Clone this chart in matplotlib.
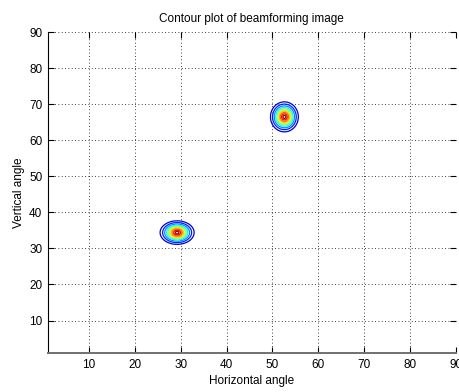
import matplotlib
matplotlib.use("Agg")
import matplotlib.pyplot as plt
import numpy as np

plt.rcParams["font.family"] = ["Liberation Sans", "DejaVu Sans"]

# source locations (degrees) and beam widths of the two peaks
SRC_H = [29.2, 52.6]
SRC_V = [34.4, 66.5]
WIDTH_H = [1.65, 1.35]
WIDTH_V = [1.45, 1.85]
AMPLITUDE = [1.0, 1.0]

ANGLES = np.arange(1, 91)
TICKS = [10, 20, 30, 40, 50, 60, 70, 80, 90]
LEVELS = [0.08, 0.16, 0.26, 0.37, 0.48, 0.59, 0.7, 0.8, 0.9, 0.97]


def beam_image(h, v):
    img = np.zeros_like(h, dtype=float)
    for x0, y0, sx, sy, a in zip(SRC_H, SRC_V, WIDTH_H, WIDTH_V, AMPLITUDE):
        img += a * np.exp(-0.5 * (((h - x0) / sx) ** 2 + ((v - y0) / sy) ** 2))
    return img


def main():
    fig = plt.figure(figsize=(4.6, 3.92), dpi=100)
    ax = fig.add_axes([0.104, 0.0995, 0.887, 0.8185])

    hh, vv = np.meshgrid(np.linspace(1, 90, 450), np.linspace(1, 90, 450))
    img = beam_image(hh, vv)
    ax.contour(hh, vv, img, levels=LEVELS, cmap="jet", vmin=0.0, vmax=1.0, linewidths=0.9)

    ax.set_xlim(ANGLES[0], ANGLES[-1])
    ax.set_ylim(ANGLES[0], ANGLES[-1])
    ax.set_xticks(TICKS)
    ax.set_yticks(TICKS)
    ax.grid(True, color="black", linestyle=(0, (1, 3)), linewidth=0.6)

    for side in ("top", "right"):
        ax.spines[side].set_visible(False)
    ax.spines["left"].set_color("black")
    ax.spines["left"].set_linewidth(0.8)
    ax.spines["bottom"].set_color("#707070")
    ax.spines["bottom"].set_linewidth(1.4)

    ax.tick_params(direction="in", length=4, width=0.8, labelsize=8.5,
                   top=True, right=True, pad=4)

    ax.set_title("Contour plot of beamforming image", fontsize=8.5, pad=7)
    ax.set_xlabel("Horizontal angle", fontsize=8.5, labelpad=3.5)
    ax.set_ylabel("Vertical angle", fontsize=8.5, labelpad=3)

    fig.savefig("out.png", dpi=100)


if __name__ == "__main__":
    main()
